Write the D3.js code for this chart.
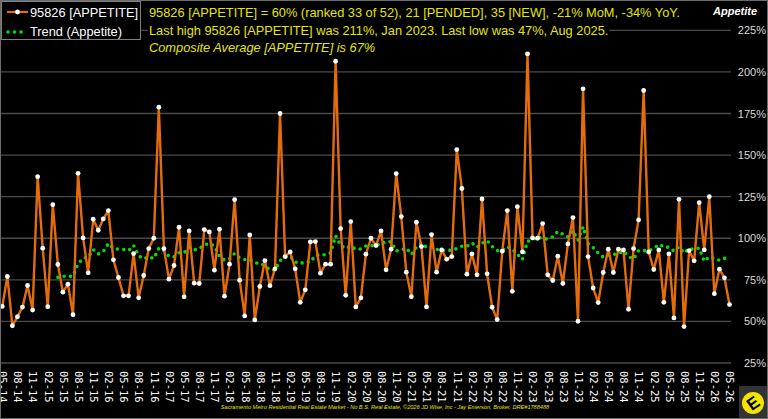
<!DOCTYPE html>
<html>
<head>
<meta charset="utf-8">
<script src="https://cdn.jsdelivr.net/npm/d3@7"></script>
<style>
  body { margin: 0; background: #000; }
  svg { display: block; }
</style>
</head>
<body>
<div id="plot"></div>
<script>
// monthly APPETITE values, 05-14 .. 05-26 (percent)
var appetite = [
  59, 77, 47.4, 52.8, 58.6, 71.6, 56.8, 137, 94, 58.8, 120.2, 84.2,
  67.6, 72.4, 54, 139, 100.2, 79.2, 111.4, 104.8, 111.6, 116.6, 87, 76.4,
  65.4, 65.4, 90.8, 64.2, 77.6, 93.8, 100, 178.8, 93.8, 75.4, 83.6, 106.6,
  64.8, 104.4, 73, 72.8, 105.2, 103.8, 80.8, 105.4, 65.2, 84.4, 123.2, 74.8,
  53.3, 102, 50.9, 71, 86.6, 71.5, 81.6, 175, 89, 91.8, 81.6, 61.5,
  69, 97.8, 98, 79, 84.4, 84.4, 206.4, 105.8, 65.7, 110, 58.7, 64.1,
  90.4, 100, 95.6, 104.4, 81, 93.4, 138.9, 113, 79.6, 64.9, 109.6, 95,
  58.7, 102.2, 79.6, 93, 87.4, 89, 153.3, 129.9, 78.4, 90.6, 78, 123.6,
  78.6, 58.5, 51.1, 92.2, 116.6, 68.1, 119, 91.8, 210.8, 100.2, 100, 108.8,
  78, 74.6, 89.2, 72.8, 96.6, 112.4, 50.1, 189.8, 89, 70.1, 61.3, 79.4,
  93.4, 79.4, 93.4, 93, 57.3, 93.8, 111, 188.8, 91.8, 81.2, 93, 61.5,
  90.6, 52.1, 123.4, 46.9, 92.6, 86.4, 121.4, 93, 125, 66.7, 81.4, 76.2,
  60.1
];

// trend line starts at month index 11
var trendStart = 11;
var trend = [
  76.5, 77.2, 76.8, 77.3, 84.5, 88.0, 88.6, 93.2, 90.5, 92.0, 96.8, 94.0,
  93.4, 93.2, 92.6, 95.7, 89.4, 87.5, 88.8, 87.8, 94.0, 92.5, 89.1, 88.8,
  91.3, 91.2, 94.5, 93.0, 93.7, 96.0, 96.9, 95.3, 89.1, 86.8, 87.5, 90.8,
  88.2, 87.2, 87.0, 85.2, 85.0, 83.5, 80.8, 80.8, 86.6, 88.6, 89.2, 85.8,
  84.7, 86.0, 85.6, 89.5, 90.2, 90.0, 91.1, 101.5, 95.7, 93.8, 95.3, 93.4,
  93.6, 95.4, 95.6, 95.4, 97.5, 97.2, 98.0, 92.3, 92.9, 94.1, 90.3, 94.6,
  97.2, 94.5, 94.7, 93.4, 92.4, 92.9, 92.6, 93.8, 95.2, 95.1, 97.2, 94.6,
  97.0, 98.6, 95.0, 92.6, 92.6, 95.0, 93.2, 90.4, 87.2, 98.2, 99.0, 100.9,
  99.6, 99.6, 100.9, 104.1, 102.5, 100.8, 104.5, 98.8, 106.9, 96.8, 94.3, 91.1,
  88.6, 89.9, 90.3, 90.6, 92.3, 89.1, 87.5, 92.6, 92.5, 92.7, 93.7, 96.3,
  94.8, 94.6, 92.3, 94.8, 91.0, 93.9, 93.3, 94.1, 86.2, 88.9, 87.7, 86.8,
  88.0, 85.4
];

var tickLabels = [
  "05-14", "08-14", "11-14", "02-15", "05-15", "08-15", "11-15", "02-16", "05-16", "08-16",
  "11-16", "02-17", "05-17", "08-17", "11-17", "02-18", "05-18", "08-18", "11-18", "02-19",
  "05-19", "08-19", "11-19", "02-20", "05-20", "08-20", "11-20", "02-21", "05-21", "08-21",
  "11-21", "02-22", "05-22", "08-22", "11-22", "02-23", "05-23", "08-23", "11-23", "02-24",
  "05-24", "08-24", "11-24", "02-25", "05-25", "08-25", "11-25", "02-26", "05-26"
];

var yTicks = [25, 50, 75, 100, 125, 150, 175, 200, 225];

var titleLines = [
  "95826 [APPETITE] = 60% (ranked 33 of 52), 21 [PENDED], 35 [NEW], -21% MoM, -34% YoY.",
  "Last high 95826 [APPETITE] was 211%, Jan 2023. Last low was 47%, Aug 2025.",
  "Composite Average [APPETITE] is 67%"
];
var footer = "Sacramento Metro Residential Real Estate Market - No B.S. Real Estate, \u00a92026 JD Wise, Inc - Jay Emerson, Broker, DRE#1788488";

var W = 768, H = 419;
var orange = "#e46c0a", green = "#00e000", yellow = "#e6e600";

var svg = d3.select("#plot").append("svg")
  .attr("width", W)
  .attr("height", H)
  .style("font-family", "Liberation Sans, Arial, sans-serif");

svg.append("rect").attr("width", W).attr("height", H).attr("fill", "#000");

var xScale = d3.scaleLinear().domain([0, appetite.length - 1]).range([2.3, 729.5]);
var yScale = d3.scaleLinear().domain([25, 225]).range([363, 30.3]);

// grid
svg.append("g")
  .selectAll("line")
  .data(yTicks)
  .join("line")
  .attr("x1", 0)
  .attr("x2", 731)
  .attr("y1", function (d) { return yScale(d); })
  .attr("y2", function (d) { return yScale(d); })
  .attr("stroke", "#4a4a4a")
  .attr("stroke-width", 1.3);

// right axis labels
var yAxis = d3.axisRight(yScale).tickValues(yTicks).tickSize(0)
  .tickFormat(function (d) { return d + "%"; });
var yg = svg.append("g").attr("transform", "translate(766,0)").call(yAxis);
yg.select(".domain").remove();
yg.selectAll("text")
  .attr("fill", "#d9d9d9")
  .attr("x", 0)
  .attr("text-anchor", "end")
  .style("font-size", "11px");

svg.append("text")
  .attr("x", 735).attr("y", 15)
  .attr("text-anchor", "middle")
  .attr("fill", "#fff")
  .style("font-size", "11px")
  .style("font-weight", "bold")
  .style("font-style", "italic")
  .text("Appetite");

// x axis labels
var xAxis = d3.axisBottom(xScale)
  .tickValues(d3.range(0, appetite.length, 3))
  .tickSize(0)
  .tickFormat(function (d, i) { return tickLabels[i]; });
var xg = svg.append("g").attr("transform", "translate(0,371)").call(xAxis);
xg.select(".domain").remove();
xg.selectAll("text")
  .attr("fill", "#fff")
  .attr("transform", "rotate(90)")
  .attr("text-anchor", "start")
  .attr("x", 0)
  .attr("y", 0)
  .attr("dy", "0.35em")
  .style("font-family", "DejaVu Sans Mono, monospace")
  .style("font-size", "10.5px");

// trend (dotted)
var trendLine = d3.line()
  .x(function (d, i) { return xScale(i + trendStart); })
  .y(function (d) { return yScale(d); });

svg.append("path")
  .datum(trend)
  .attr("d", trendLine)
  .attr("fill", "none")
  .attr("stroke", green)
  .attr("stroke-width", 3.6)
  .attr("stroke-linecap", "round")
  .attr("stroke-dasharray", "0,6.4");

// main series
var plotLine = d3.line()
  .x(function (d, i) { return xScale(i); })
  .y(function (d) { return yScale(d); });

svg.append("path")
  .datum(appetite)
  .attr("d", plotLine)
  .attr("fill", "none")
  .attr("stroke", orange)
  .attr("stroke-width", 2.4)
  .attr("stroke-linejoin", "round");

svg.append("g")
  .selectAll("circle")
  .data(appetite)
  .join("circle")
  .attr("cx", function (d, i) { return xScale(i); })
  .attr("cy", function (d) { return yScale(d); })
  .attr("r", 2.4)
  .attr("fill", "#fff");

// title lines with black boxes behind
var tg = svg.append("g");
titleLines.forEach(function (t, i) {
  var txt = tg.append("text")
    .attr("x", 149)
    .attr("y", 17 + i * 17.5)
    .attr("fill", yellow)
    .style("font-size", "12.8px")
    .style("font-style", i == 2 ? "italic" : "normal")
    .text(t);
  var bb = txt.node().getBBox();
  tg.insert("rect", "text")
    .attr("x", bb.x - 1).attr("y", bb.y)
    .attr("width", bb.width + 2).attr("height", bb.height)
    .attr("fill", "#000");
});

// legend
var lg = svg.append("g");
lg.append("rect")
  .attr("x", 1.5).attr("y", 1.5)
  .attr("width", 139).attr("height", 38)
  .attr("fill", "#000")
  .attr("stroke", "#808080");
lg.append("line")
  .attr("x1", 7).attr("x2", 28).attr("y1", 12).attr("y2", 12)
  .attr("stroke", orange).attr("stroke-width", 2.2);
lg.append("circle").attr("cx", 17.5).attr("cy", 12).attr("r", 2.4).attr("fill", "#fff");
lg.selectAll(".ld")
  .data([8, 14.5, 21])
  .join("circle")
  .attr("cx", function (d) { return d; })
  .attr("cy", 32)
  .attr("r", 1.8)
  .attr("fill", green);
lg.append("text").attr("x", 30).attr("y", 17).attr("fill", "#fff")
  .style("font-size", "12.8px").text("95826 [APPETITE]");
lg.append("text").attr("x", 30).attr("y", 36).attr("fill", "#fff")
  .style("font-size", "12.8px").text("Trend (Appetite)");

// footer
svg.append("text")
  .attr("x", 385).attr("y", 409)
  .attr("text-anchor", "middle")
  .attr("fill", yellow)
  .style("font-size", "5.6px")
  .style("font-style", "italic")
  .text(footer);

// logo
svg.append("rect").attr("x", 739).attr("y", 386).attr("width", 29).attr("height", 33).attr("fill", "#333");
svg.append("circle").attr("cx", 753).attr("cy", 403).attr("r", 11).attr("fill", "#f2e600");
svg.append("text")
  .attr("transform", "translate(753,403) rotate(-35)")
  .attr("text-anchor", "middle")
  .attr("dy", "0.36em")
  .attr("fill", "#000")
  .style("font-size", "17px")
  .style("font-weight", "bold")
  .text("E");

// outer frame
svg.append("rect")
  .attr("x", 0.5).attr("y", 0.5)
  .attr("width", W - 1).attr("height", H - 1)
  .attr("fill", "none")
  .attr("stroke", "#6b6b6b");
</script>
</body>
</html>
